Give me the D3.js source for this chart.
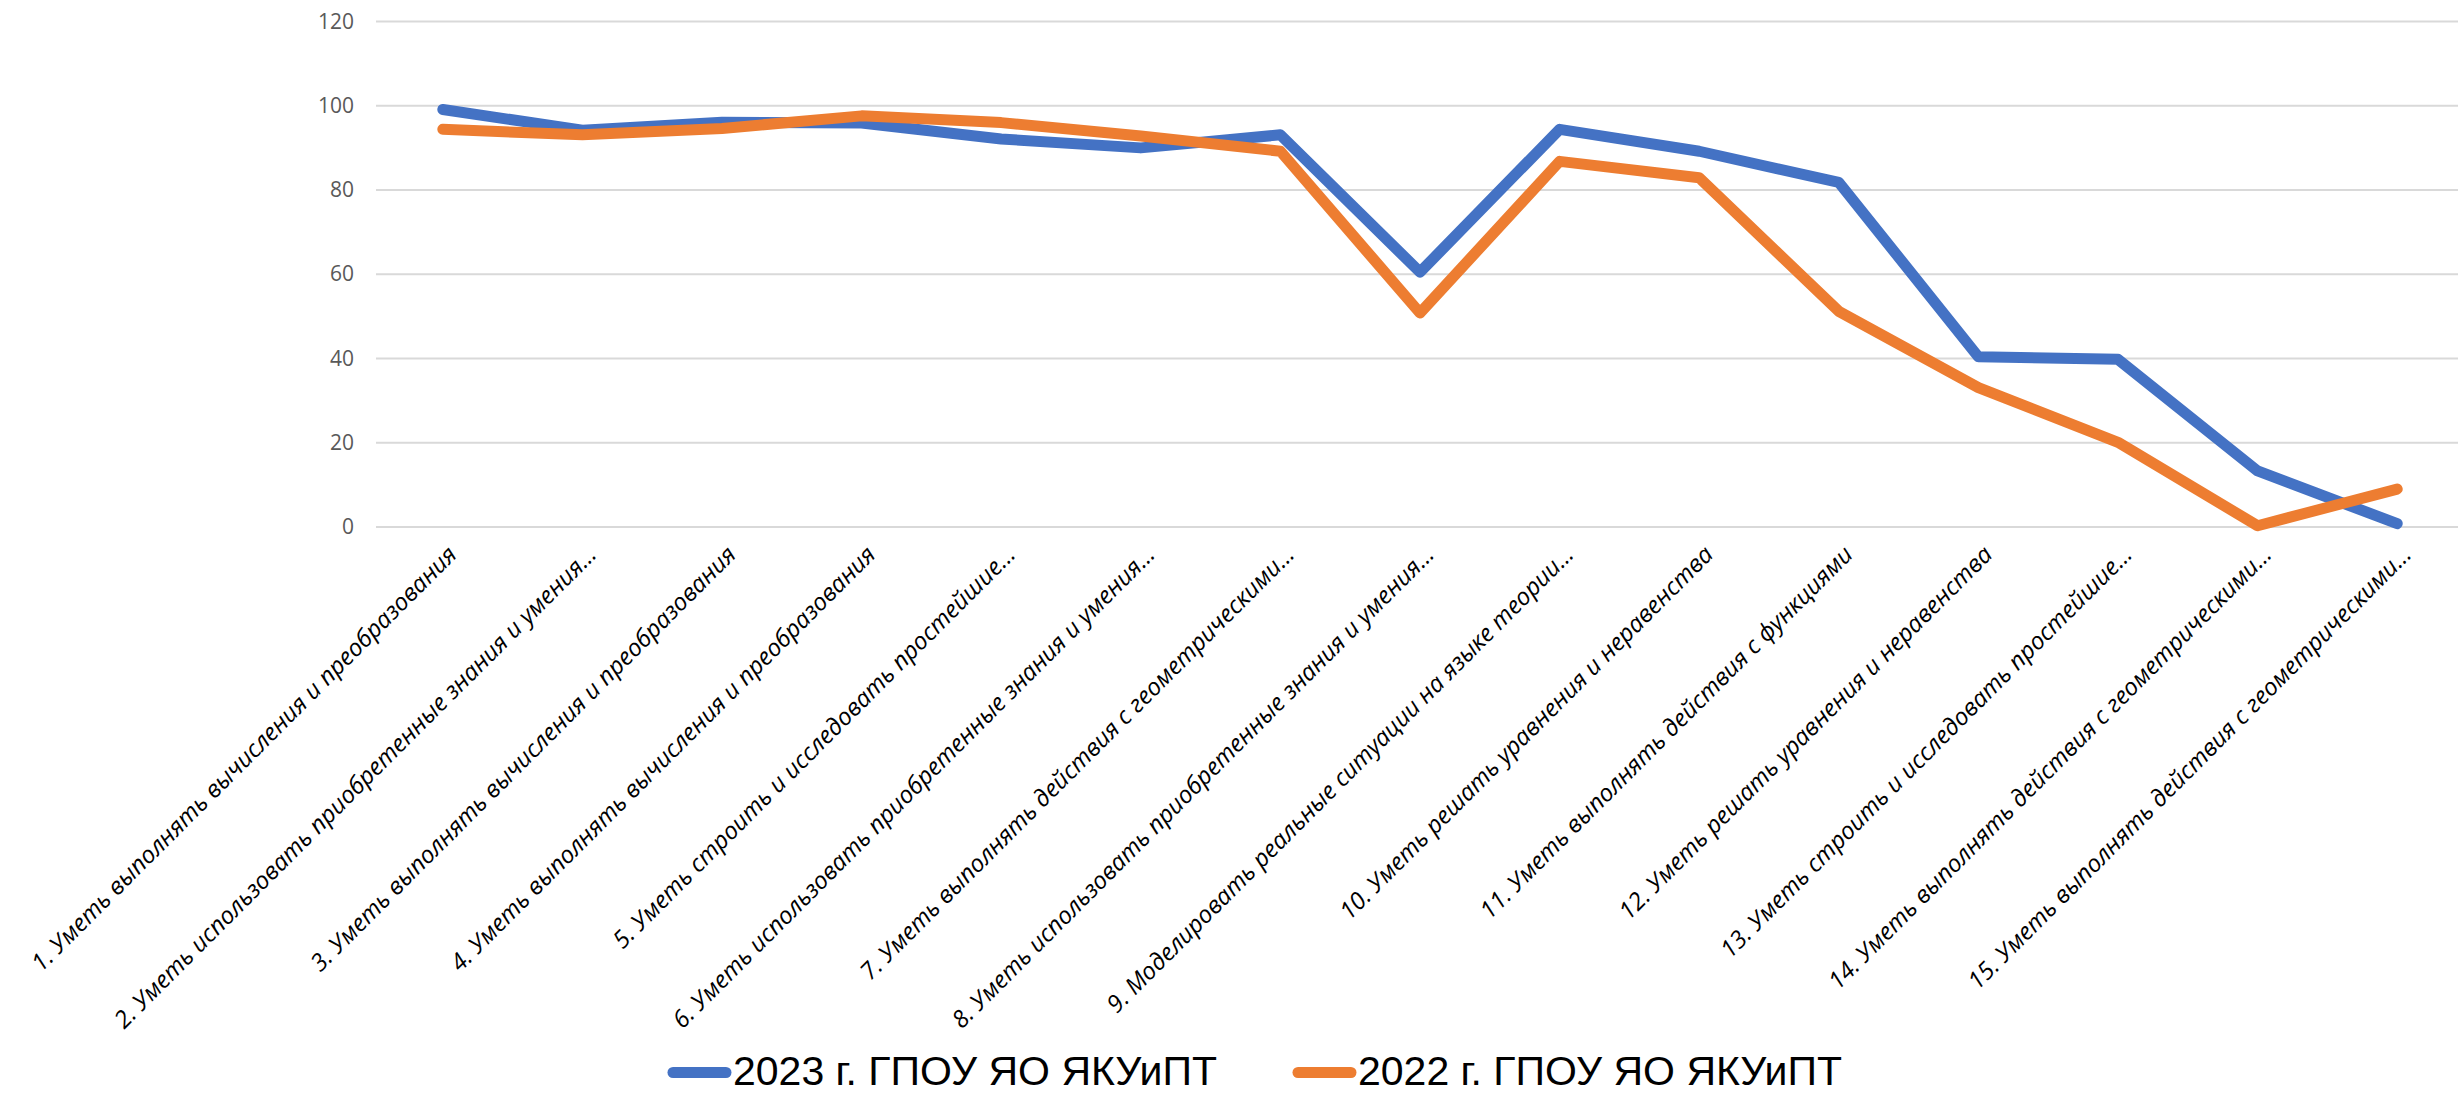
<!DOCTYPE html>
<html>
<head>
<meta charset="utf-8">
<script src="https://cdn.jsdelivr.net/npm/d3@7"></script>
<style>
  html, body { margin: 0; padding: 0; background: #fff; overflow: hidden; }
  svg { display: block; }
</style>
</head>
<body>
<svg id="chart" width="2458" height="1093"></svg>
<script>
const categories = [
  "1. Уметь выполнять вычисления и преобразования",
  "2. Уметь использовать приобретенные знания и умения...",
  "3. Уметь выполнять вычисления и преобразования",
  "4. Уметь выполнять вычисления и преобразования",
  "5. Уметь строить и исследовать простейшие...",
  "6. Уметь использовать приобретенные знания и умения...",
  "7. Уметь выполнять действия с геометрическими...",
  "8. Уметь использовать приобретенные знания и умения...",
  "9. Моделировать реальные ситуации на языке теории...",
  "10. Уметь решать уравнения и неравенства",
  "11. Уметь выполнять действия с функциями",
  "12. Уметь решать уравнения и неравенства",
  "13. Уметь строить и исследовать простейшие...",
  "14. Уметь выполнять действия с геометрическими...",
  "15. Уметь выполнять действия с геометрическими..."
];
const seriesNames = ["2023 г. ГПОУ ЯО ЯКУиПТ", "2022 г. ГПОУ ЯО ЯКУиПТ"];
const values2023 = [99.1, 94.2, 96.1, 95.9, 92.1, 90.0, 93.1, 60.5, 94.4, 89.2, 81.8, 40.4, 39.8, 13.3, 0.8];
const values2022 = [94.4, 93.1, 94.6, 97.6, 96.0, 92.8, 89.2, 50.8, 86.8, 82.9, 51.2, 33.1, 20.1, 0.3, 9.0];
const yTicks = [0, 20, 40, 60, 80, 100, 120];
const colors = ["#4472C4", "#ED7D31"];

const svg = d3.select("#chart");

const x = d3.scalePoint().domain(categories.map((d, i) => i)).range([373, 2467]).padding(0.5);
const y = d3.scaleLinear().domain([0, 120]).range([527, 21.5]);

// gridlines
svg.append("g").selectAll("line").data(yTicks).join("line")
  .attr("x1", 376).attr("x2", 2470)
  .attr("y1", d => y(d)).attr("y2", d => y(d))
  .attr("stroke", "#d9d9d9").attr("stroke-width", 2);

// y axis labels
const yAxis = d3.axisLeft(y).tickValues(yTicks).tickSize(0).tickPadding(0);
const yg = svg.append("g").attr("transform", "translate(354,0)").call(yAxis);
yg.select(".domain").remove();
yg.selectAll("text")
  .attr("font-family", "'Open Sans', 'Noto Sans', sans-serif")
  .attr("font-size", 21)
  .attr("fill", "#595959");

// x axis labels
const xAxis = d3.axisBottom(x).tickSize(0).tickFormat(i => categories[i]);
const xg = svg.append("g").attr("transform", "translate(0,527)").call(xAxis);
xg.select(".domain").remove();
xg.selectAll(".tick text")
  .attr("font-family", "'Open Sans', 'Noto Sans', sans-serif")
  .attr("font-style", "italic")
  .attr("font-size", 24)
  .attr("fill", "#000")
  .attr("text-anchor", "end")
  .attr("x", 0).attr("y", 0).attr("dy", "0.35em")
  .attr("transform", "translate(9,23) rotate(-45)");

// lines
const line = d3.line().x((d, i) => x(i)).y(d => y(d));
[values2023, values2022].forEach((vals, k) => {
  svg.append("path")
    .datum(vals)
    .attr("d", line)
    .attr("fill", "none")
    .attr("stroke", colors[k])
    .attr("stroke-width", 11)
    .attr("stroke-linecap", "round")
    .attr("stroke-linejoin", "round");
});

// legend
const legendItems = [
  { name: seriesNames[0], color: colors[0], x0: 673, x1: 726, tx: 733 },
  { name: seriesNames[1], color: colors[1], x0: 1298, x1: 1351, tx: 1358 }
];
const lg = svg.append("g");
legendItems.forEach(it => {
  lg.append("line")
    .attr("x1", it.x0).attr("x2", it.x1)
    .attr("y1", 1072.5).attr("y2", 1072.5)
    .attr("stroke", it.color).attr("stroke-width", 11)
    .attr("stroke-linecap", "round");
  lg.append("text")
    .attr("x", it.tx).attr("y", 1085)
    .attr("font-family", "'Liberation Sans Narrow', 'Liberation Sans', sans-serif")
    .attr("font-size", 41)
    .attr("fill", "#000")
    .attr("textLength", 484)
    .attr("lengthAdjust", "spacingAndGlyphs")
    .text(it.name);
});
</script>
</body>
</html>
